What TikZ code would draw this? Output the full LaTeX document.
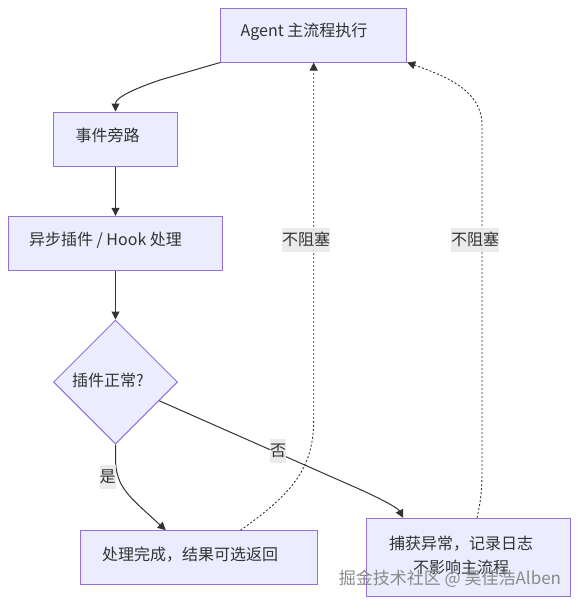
\documentclass[tikz,border=0pt]{standalone}
\usepackage{fontspec}
\setmainfont{Noto Sans CJK SC}
\usetikzlibrary{shapes.geometric,arrows.meta,calc}
\definecolor{nodefill}{HTML}{ECECFF}
\definecolor{nodedraw}{HTML}{9370DB}
\definecolor{ink}{HTML}{333333}
\definecolor{lblbg}{HTML}{E8E8E8}
\definecolor{wmgray}{HTML}{8A8A8A}
\begin{document}
\begin{tikzpicture}[x=1pt,y=-1pt,
  box/.style={draw=nodedraw, fill=nodefill, line width=1pt, rectangle, inner sep=0pt},
  dia/.style={draw=nodedraw, fill=nodefill, line width=1pt, diamond, inner sep=0pt, minimum width=124pt, minimum height=124pt},
  txt/.style={text=ink, font=\fontsize{16pt}{24pt}\selectfont, inner sep=0pt, align=center},
  lbl/.style={text=ink, font=\fontsize{16pt}{20pt}\selectfont, fill=lblbg, fill opacity=0.85, text opacity=1, inner xsep=0pt, inner ysep=0pt, minimum height=24pt},
  link/.style={draw=ink, line width=1pt, -{Triangle[length=8pt,width=8pt]}},
  dotlink/.style={link, line width=0.9pt, dash pattern=on 2pt off 2pt},
]
\useasboundingbox (0,0) rectangle (579,605);

% boxes
\node[box, minimum width=186pt, minimum height=54pt] (agent) at (313.7,35) {};
\node[box, minimum width=124pt, minimum height=54pt] (side) at (115.5,139) {};
\node[box, minimum width=214.5pt, minimum height=54pt] (async) at (115.5,243.3) {};
\node[dia] (dec) at (115.5,382) {};
\node[box, minimum width=236.6pt, minimum height=53.6pt] (done) at (199,557.5) {};
\node[box, minimum width=204.3pt, minimum height=78.4pt] (catch) at (468.8,557.5) {};

% texts
\node[txt] (agent-t) at (304,31.5) {Agent 主流程执行};
\node[txt] (side-t) at (107.5,135) {事件旁路};
\node[txt] (async-t) at (105.5,240) {异步插件 / Hook 处理};
\node[txt] (dec-t) at (108,380) {插件正常?};
\node[txt] (done-t) at (190,555) {处理完成，结果可选返回};
\node[txt] (catch-t) at (461,555) {捕获异常，记录日志\\不影响主流程};

% connectors
\draw[link] (agent.south west) -- (160,80) .. controls (122,93) and (115.5,100) .. (side.north);
\draw[link] (side.south) -- (async.north);
\draw[link] (async.south) -- (dec.north);
\draw[link] (dec.south) -- (115.5,458) .. controls (115.5,488) and (130,497) .. ($(done.north west)!0.36!(done.north east)$);
\draw[link] ($(dec.east)!0.3!(dec.south)$) -- (350,485) .. controls (380,498) and (398,508) .. ($(catch.north west)!0.18!(catch.north east)$);
\draw[dotlink] ($(done.north west)!0.675!(done.north east)$) .. controls (290,495) and (313.7,470) .. (313.7,420) -- (agent.south);
\draw[dotlink] ($(catch.north west)!0.54!(catch.north east)$) .. controls (481,500) and (482,490) .. (482,470) -- (482,125) .. controls (482,90) and (445,76) .. (agent.south east);

% edge labels
\node[lbl] (l1) at (306,239.5) {不阻塞};
\node[lbl] (l2) at (475,239.5) {不阻塞};
\node[lbl] (lyes) at (107.5,477) {是};
\node[lbl] (lno) at (278,450.5) {否};

% watermark
\node[text=wmgray, font=\fontsize{17pt}{20pt}\selectfont, inner sep=0pt] (wm) at (450,579) {掘金技术社区 @ 吴佳浩Alben};
\end{tikzpicture}
\end{document}
